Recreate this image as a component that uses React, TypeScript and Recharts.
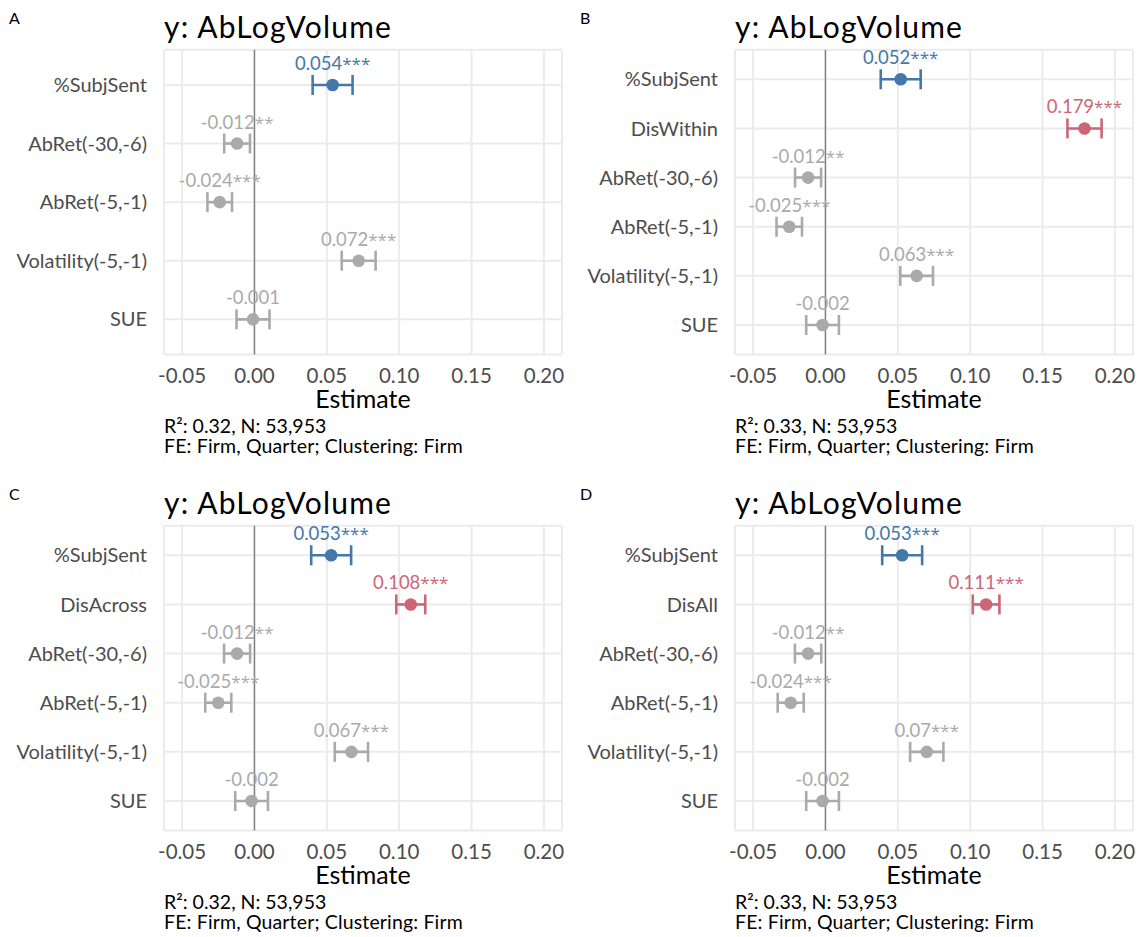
import React from 'react';
import {
  ScatterChart,
  Scatter,
  XAxis,
  YAxis,
  CartesianGrid,
  ErrorBar,
  ReferenceLine,
} from 'recharts';

const FONT = "Lato, 'Noto Sans', sans-serif";
const STAR_FONT = "'Open Sans', 'Noto Sans', sans-serif";
const COLORS: Record<string, string> = {
  focal: '#4477AA',
  disp: '#CC6677',
  control: '#AAAAAA',
};

// ---------- data ----------
const xTicks = [-0.05, 0, 0.05, 0.1, 0.15, 0.2];
const xDomain = [-0.0625, 0.2125];
const titleText = 'y: AbLogVolume';
const axisTitle = 'Estimate';

// Panel A
const catsA = ['%SubjSent', 'AbRet(-30,-6)', 'AbRet(-5,-1)', 'Volatility(-5,-1)', 'SUE'];
const estA = [0.054, -0.012, -0.024, 0.072, -0.001];
const errA = [0.0138, 0.0089, 0.0085, 0.0117, 0.0114];
const labA = ['0.054***', '-0.012**', '-0.024***', '0.072***', '-0.001'];
const grpA = ['focal', 'control', 'control', 'control', 'control'];
const capA = ['R²: 0.32, N: 53,953', 'FE: Firm, Quarter; Clustering: Firm'];

// Panel B
const catsB = ['%SubjSent', 'DisWithin', 'AbRet(-30,-6)', 'AbRet(-5,-1)', 'Volatility(-5,-1)', 'SUE'];
const estB = [0.052, 0.179, -0.012, -0.025, 0.063, -0.002];
const errB = [0.0138, 0.0118, 0.009, 0.0088, 0.0113, 0.0113];
const labB = ['0.052***', '0.179***', '-0.012**', '-0.025***', '0.063***', '-0.002'];
const grpB = ['focal', 'disp', 'control', 'control', 'control', 'control'];
const capB = ['R²: 0.33, N: 53,953', 'FE: Firm, Quarter; Clustering: Firm'];

// Panel C
const catsC = ['%SubjSent', 'DisAcross', 'AbRet(-30,-6)', 'AbRet(-5,-1)', 'Volatility(-5,-1)', 'SUE'];
const estC = [0.053, 0.108, -0.012, -0.025, 0.067, -0.002];
const errC = [0.0138, 0.01, 0.009, 0.009, 0.0115, 0.0113];
const labC = ['0.053***', '0.108***', '-0.012**', '-0.025***', '0.067***', '-0.002'];
const grpC = ['focal', 'disp', 'control', 'control', 'control', 'control'];
const capC = ['R²: 0.32, N: 53,953', 'FE: Firm, Quarter; Clustering: Firm'];

// Panel D
const catsD = ['%SubjSent', 'DisAll', 'AbRet(-30,-6)', 'AbRet(-5,-1)', 'Volatility(-5,-1)', 'SUE'];
const estD = [0.053, 0.111, -0.012, -0.024, 0.07, -0.002];
const errD = [0.0138, 0.0092, 0.0091, 0.009, 0.0115, 0.0113];
const labD = ['0.053***', '0.111***', '-0.012**', '-0.024***', '0.07***', '-0.002'];
const grpD = ['focal', 'disp', 'control', 'control', 'control', 'control'];
const capD = ['R²: 0.33, N: 53,953', 'FE: Firm, Quarter; Clustering: Firm'];

// ---------- layout ----------
const PANEL_W = 570;
const PANEL_H = 461;
const PLOT_LEFT = 164;
const PLOT_RIGHT_MARGIN = 8;
const PLOT_TOP = 49.8;
const PLOT_BOTTOM = 354.5;
const XAXIS_H = 30;

type PanelProps = {
  letter: string;
  cats: string[];
  est: number[];
  err: number[];
  lab: string[];
  grp: string[];
  caption: string[];
  left: number;
  top: number;
};

const makeShape = (color: string) => (props: any) => {
  const { cx, cy, payload } = props;
  if (cx == null || cy == null) return <g />;
  const full: string = payload.label;
  const m = full.match(/^([^*]*)(\**)$/);
  const num = m ? m[1] : full;
  const stars = m ? m[2] : '';
  return (
    <g>
      <circle cx={cx} cy={cy} r={6.3} fill={color} />
      <text
        x={cx}
        y={cy - 15}
        textAnchor="middle"
        fill={color}
        fontSize={18.5}
        fontFamily={FONT}
      >
        {num}
        {stars ? (
          <tspan fontFamily={STAR_FONT} fontSize={17}>
            {stars}
          </tspan>
        ) : null}
      </text>
    </g>
  );
};

function Panel({ letter, cats, est, err, lab, grp, caption, left, top }: PanelProps) {
  const rows = cats.map((c, i) => ({
    pos: i + 1,
    name: c,
    est: est[i],
    err: err[i],
    label: lab[i],
    grp: grp[i],
  }));
  const n = cats.length;
  const yTicks = cats.map((_, i) => i + 1);
  const groups = ['control', 'disp', 'focal'].filter((g) => rows.some((r) => r.grp === g));
  const plotW = PANEL_W - PLOT_LEFT - PLOT_RIGHT_MARGIN;
  const cx = PLOT_LEFT + plotW / 2;

  return (
    <div style={{ position: 'absolute', left, top, width: PANEL_W, height: PANEL_H }}>
      <ScatterChart
        width={PANEL_W}
        height={PANEL_H}
        margin={{
          top: PLOT_TOP,
          right: PLOT_RIGHT_MARGIN,
          left: 0,
          bottom: PANEL_H - PLOT_BOTTOM - XAXIS_H,
        }}
      >
        <CartesianGrid stroke="#EBEBEB" strokeWidth={2} />
        <XAxis
          type="number"
          dataKey="est"
          domain={xDomain}
          ticks={xTicks}
          allowDataOverflow
          interval={0}
          height={XAXIS_H}
          axisLine={false}
          tickLine={false}
          tickSize={0}
          tickMargin={14}
          tickFormatter={(v: number) => v.toFixed(2)}
          tick={{ fontSize: 20.5, fill: '#4D4D4D', fontFamily: FONT }}
        />
        <YAxis
          type="number"
          dataKey="pos"
          domain={[0.4, n + 0.6]}
          ticks={yTicks}
          reversed
          allowDataOverflow
          interval={0}
          width={PLOT_LEFT}
          axisLine={false}
          tickLine={false}
          tickSize={0}
          tickMargin={17}
          tickFormatter={(v: number) => cats[v - 1] ?? ''}
          tick={{ fontSize: 20, fill: '#4D4D4D', fontFamily: FONT }}
        />
        <ReferenceLine x={0} stroke="#7F7F7F" strokeWidth={1.4} />
        {groups.map((g) => (
          <Scatter
            key={g}
            data={rows.filter((r) => r.grp === g)}
            fill={COLORS[g]}
            isAnimationActive={false}
            shape={makeShape(COLORS[g])}
          >
            <ErrorBar
              dataKey="err"
              direction="x"
              width={10}
              stroke={COLORS[g]}
              strokeWidth={2.6}
              isAnimationActive={false}
            />
          </Scatter>
        ))}
      </ScatterChart>
      <svg
        width={PANEL_W}
        height={PANEL_H}
        style={{ position: 'absolute', left: 0, top: 0, pointerEvents: 'none', overflow: 'visible' }}
        fontFamily={FONT}
      >
        <text x={9} y={24} fontSize={16} fill="#000">
          {letter}
        </text>
        <text x={164} y={38.3} fontSize={30} letterSpacing={1.2} fill="#000">
          {titleText}
        </text>
        <text x={cx} y={408.3} fontSize={25} fill="#000" textAnchor="middle">
          {axisTitle}
        </text>
        <text x={164} y={433.3} fontSize={19.5} fill="#000">
          {caption[0]}
        </text>
        <text x={164} y={453} fontSize={19.5} letterSpacing={0.15} fill="#000">
          {caption[1]}
        </text>
      </svg>
    </div>
  );
}

export default function App() {
  return (
    <div
      style={{
        position: 'fixed',
        left: 0,
        top: 0,
        width: 1141,
        height: 937,
        overflow: 'hidden',
        background: '#fff',
        fontFamily: FONT,
      }}
    >
      <Panel letter="A" cats={catsA} est={estA} err={errA} lab={labA} grp={grpA} caption={capA} left={0} top={0} />
      <Panel letter="B" cats={catsB} est={estB} err={errB} lab={labB} grp={grpB} caption={capB} left={570.5} top={0} />
      <Panel letter="C" cats={catsC} est={estC} err={errC} lab={labC} grp={grpC} caption={capC} left={0} top={476} />
      <Panel letter="D" cats={catsD} est={estD} err={errD} lab={labD} grp={grpD} caption={capD} left={570.5} top={476} />
    </div>
  );
}
